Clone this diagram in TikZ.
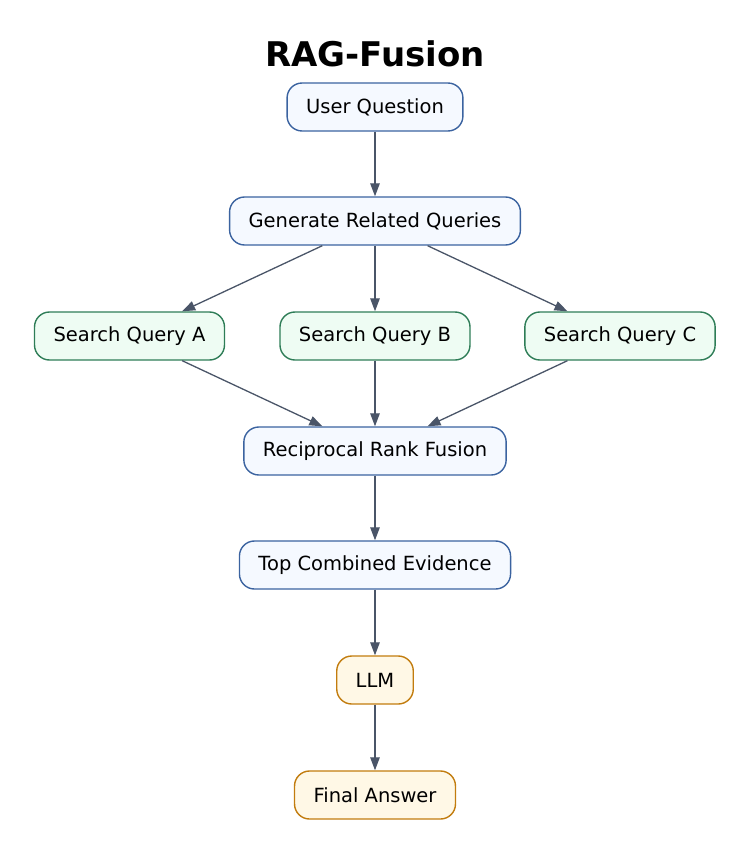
\documentclass[tikz,border=0pt]{standalone}
\usepackage{fontspec}
\setmainfont{DejaVu Sans}
\usetikzlibrary{arrows.meta}
\definecolor{bluefill}{HTML}{F5F9FF}
\definecolor{blueline}{HTML}{3B63A0}
\definecolor{greenfill}{HTML}{EEFCF3}
\definecolor{greenline}{HTML}{2E7D57}
\definecolor{orangefill}{HTML}{FFF8E6}
\definecolor{orangeline}{HTML}{C27C0E}
\definecolor{edgecol}{HTML}{4A5568}
\tikzset{
  box/.style={draw, rounded corners=15pt, line width=1.4pt, minimum height=48pt,
    inner xsep=19pt, inner ysep=0pt, font=\fontsize{19.5}{23}\selectfont, text=black},
  bluebox/.style={box, draw=blueline, fill=bluefill},
  greenbox/.style={box, draw=greenline, fill=greenfill},
  orangebox/.style={box, draw=orangeline, fill=orangefill},
  conn/.style={draw=edgecol, line width=1.3pt, -{Triangle[length=13pt,width=9.5pt]}}
}
\begin{document}
\begin{tikzpicture}[x=1pt,y=-1pt]
\useasboundingbox (0,0) rectangle (750,853);
\node[anchor=base, font=\fontsize{34}{40}\selectfont\bfseries] (title) at (375,67) {RAG-Fusion};
\node[bluebox] (uq) at (375,107) {User Question};
\node[bluebox] (gen) at (375,221) {Generate Related Queries};
\node[greenbox] (sa) at (129.5,336) {Search Query A};
\node[greenbox] (sb) at (375,336) {Search Query B};
\node[greenbox] (sc) at (620,336) {Search Query C};
\node[bluebox] (rrf) at (375,451) {Reciprocal Rank Fusion};
\node[bluebox] (top) at (375,565) {Top Combined Evidence};
\node[orangebox] (llm) at (375,680) {LLM};
\node[orangebox] (ans) at (375,795) {Final Answer};
\draw[conn] (uq) -- (gen);
\draw[conn] (gen) -- (sa);
\draw[conn] (gen) -- (sb);
\draw[conn] (gen) -- (sc);
\draw[conn] (sa) -- (rrf);
\draw[conn] (sb) -- (rrf);
\draw[conn] (sc) -- (rrf);
\draw[conn] (rrf) -- (top);
\draw[conn] (top) -- (llm);
\draw[conn] (llm) -- (ans);
\end{tikzpicture}
\end{document}
